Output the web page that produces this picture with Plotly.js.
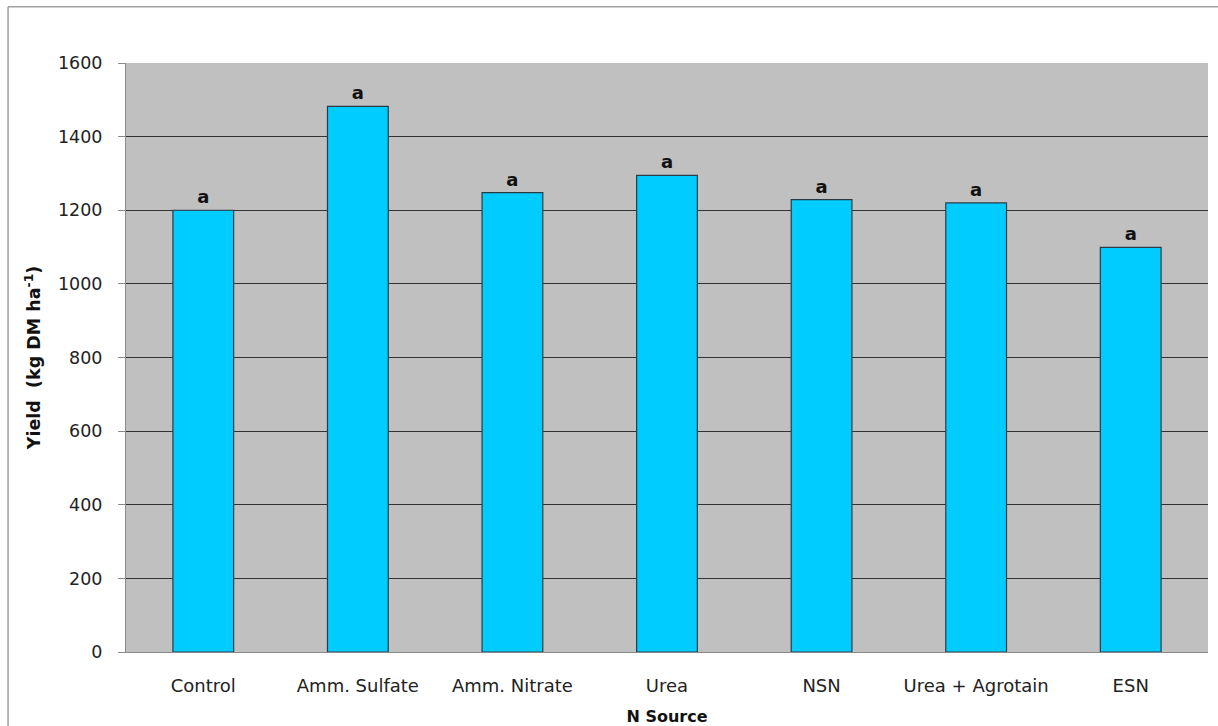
<!DOCTYPE html>
<html>
<head>
<meta charset="utf-8">
<script src="https://cdn.plot.ly/plotly-3.0.1.min.js"></script>
<style>
  html, body { margin: 0; padding: 0; background: #fff; }
  #chart { width: 1218px; height: 726px; }
</style>
</head>
<body>
<div id="chart"></div>
<script>
const categories = ['Control', 'Amm. Sulfate', 'Amm. Nitrate', 'Urea', 'NSN', 'Urea + Agrotain', 'ESN'];
const yieldValues = [1200, 1482, 1248, 1295, 1229, 1220, 1099];
const letters = ['a', 'a', 'a', 'a', 'a', 'a', 'a'];
const yTickValues = [0, 200, 400, 600, 800, 1000, 1200, 1400, 1600];

const trace = {
  type: 'bar',
  x: categories,
  y: yieldValues,
  text: letters,
  textposition: 'outside',
  cliponaxis: false,
  textfont: { family: 'DejaVu Sans', size: 18, color: '#111', weight: 'bold' },
  marker: { color: '#00CCFF', line: { color: '#2b3a44', width: 1.2 } },
  hoverinfo: 'x+y'
};

const layout = {
  width: 1218,
  height: 726,
  margin: { l: 126, r: 10, t: 63, b: 74 },
  paper_bgcolor: '#ffffff',
  plot_bgcolor: '#C0C0C0',
  showlegend: false,
  bargap: 0.607,
  font: { family: 'DejaVu Sans', color: '#222' },
  xaxis: {
    type: 'category',
    tickfont: { family: 'DejaVu Sans', size: 18, color: '#222' },
    ticks: '',
    ticklabelstandoff: 17,
    showline: true,
    linecolor: '#8a8a8a',
    linewidth: 1,
    showgrid: false,
    title: { text: '<b>N Source</b>', font: { family: 'DejaVu Sans', size: 16, color: '#111' }, standoff: 16 }
  },
  yaxis: {
    range: [0, 1600],
    tickvals: yTickValues,
    ticktext: yTickValues.map(String),
    tickfont: { family: 'DejaVu Sans', size: 17.5, color: '#222' },
    ticks: 'outside',
    ticklen: 7,
    tickcolor: '#8a8a8a',
    ticklabelstandoff: 12,
    showline: true,
    linecolor: '#8a8a8a',
    linewidth: 1,
    showgrid: true,
    gridcolor: '#333333',
    gridwidth: 1,
    zeroline: false,
    title: { text: '<b>Yield  (kg DM ha<sup>-1</sup>)</b>', font: { family: 'DejaVu Sans', size: 17.5, color: '#111' }, standoff: 12 }
  },
  shapes: [
    { type: 'line', xref: 'paper', yref: 'paper', x0: -0.1090, x1: -0.1090, y0: 1.0955, y1: -0.13, line: { color: '#a0a0a0', width: 1.5 } },
    { type: 'line', xref: 'paper', yref: 'paper', x0: -0.1090, x1: 1.01, y0: 1.0955, y1: 1.0955, line: { color: '#a0a0a0', width: 1.5 } }
  ]
};

Plotly.newPlot('chart', [trace], layout, { displayModeBar: false, staticPlot: true });
</script>
</body>
</html>
